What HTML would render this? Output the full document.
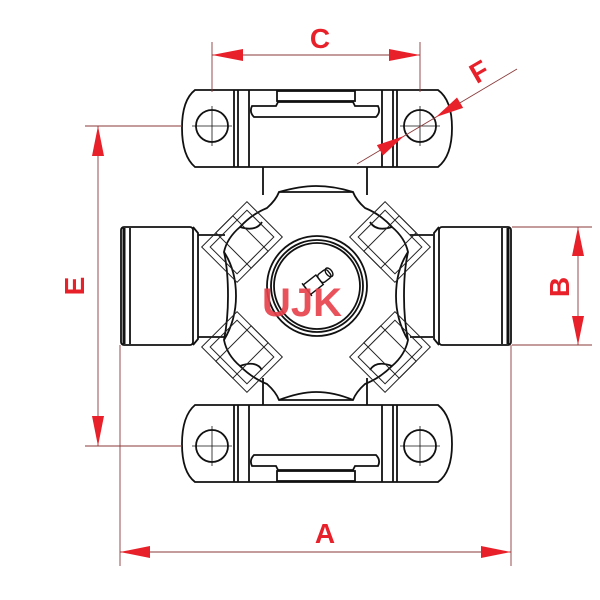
<!DOCTYPE html>
<html><head><meta charset="utf-8"><style>
html,body{margin:0;padding:0;background:#fff}
svg{display:block}
text{font-family:"Liberation Sans",sans-serif;font-weight:bold;fill:#e8202a}
</style></head><body>
<svg width="600" height="600" viewBox="0 0 600 600" xmlns="http://www.w3.org/2000/svg">
<defs>
<g id="yoke" fill="none" stroke="#111" stroke-width="1.8">
  <path d="M195 90 H438 Q452 100 452 128 Q452 156 438 167 H195 Q182 156 182 128 Q182 100 195 90 Z"/>
  <line x1="234" y1="90" x2="234" y2="167"/><line x1="238" y1="90" x2="238" y2="167"/><line x1="249" y1="90" x2="249" y2="167"/>
  <line x1="382" y1="90" x2="382" y2="167"/><line x1="393" y1="90" x2="393" y2="167"/><line x1="397" y1="90" x2="397" y2="167"/>
  <rect x="277" y="91" width="78" height="10"/>
  <path d="M252 106 Q249 112 254 117 H376 Q381 112 378 106 L355 106 L353 102 H278 L276 106 Z"/>
  <circle cx="212" cy="126" r="16"/><circle cx="420" cy="126" r="16"/>
  <g stroke-width="0.8"><line x1="192" y1="126" x2="232" y2="126"/><line x1="212" y1="106" x2="212" y2="146"/>
  <line x1="400" y1="126" x2="440" y2="126"/><line x1="420" y1="106" x2="420" y2="146"/></g>
</g>
<g id="dia" fill="none" stroke="#222" stroke-width="1">
  <rect x="-32" y="-25" width="64" height="50"/><rect x="-26" y="-19" width="52" height="38"/><rect x="-12" y="-25" width="24" height="50"/>
</g>
</defs>
<use href="#yoke"/>
<use href="#yoke" transform="translate(0,572) scale(1,-1)"/>
<g fill="none" stroke="#111" stroke-width="1.8">
<path d="M263 167 V195 M367 167 V195 M263 378 V405 M367 378 V405"/>
<path d="M198 235 H225 M198 337 H225 M433 235 H410 M433 337 H410"/>
<rect x="121" y="227" width="72" height="118" rx="3"/>
<line x1="124" y1="228" x2="124" y2="344" stroke-width="3"/><line x1="130" y1="228" x2="130" y2="344"/>
<path d="M193 227 L198 233 V339 L193 345"/>
<rect x="439" y="227" width="72" height="118" rx="3"/>
<line x1="508" y1="228" x2="508" y2="344" stroke-width="3"/><line x1="502" y1="228" x2="502" y2="344"/>
<path d="M439 227 L434 233 V339 L439 345"/>
<path d="M279 192 H353 Q356 200 365 208 Q380 214 392 227 Q405 238 408 252 Q404 270 404 296 Q404 320 408 340 Q405 355 392 366 Q380 378 365 384 Q356 392 353 400 H279 Q276 392 267 384 Q252 378 240 366 Q227 355 224 340 Q228 320 228 296 Q228 270 224 252 Q227 238 240 227 Q252 214 267 208 Q276 200 279 192 Z"/>
<path d="M279 192 Q300 186 316 186 Q334 186 353 192" />
<path d="M240 227 Q256 232 262 222 M392 227 Q376 232 370 222 M240 366 Q256 360 262 370 M392 366 Q376 360 370 370"/>
<path d="M224 252 Q236 270 236 296 Q236 320 224 340 M408 252 Q396 270 396 296 Q396 320 408 340"/>
<path d="M279 400 Q300 392 316 392 Q334 392 353 400"/>
<circle cx="317" cy="286" r="50"/><circle cx="317" cy="286" r="46"/><circle cx="317" cy="286" r="43"/>
<g transform="translate(318,281) rotate(-38)" stroke-width="1.4">
<rect x="-14" y="-6" width="16" height="12"/><rect x="2" y="-5" width="12" height="10" rx="3"/><ellipse cx="14" cy="0" rx="3" ry="5"/>
<line x1="-14" y1="-8" x2="-14" y2="8"/>
</g>
</g>
<use href="#dia" transform="translate(242,242) rotate(-45)"/>
<use href="#dia" transform="translate(390,242) rotate(45)"/>
<use href="#dia" transform="translate(242,352) rotate(45)"/>
<use href="#dia" transform="translate(390,352) rotate(-45)"/>
<text x="302" y="316" font-size="40" text-anchor="middle" style="fill:#e8404a;opacity:.9">UJK</text>
<g stroke="#8a3a3a" stroke-width="0.9" fill="none">
<line x1="212" y1="42" x2="212" y2="92"/><line x1="420" y1="42" x2="420" y2="92"/>
<line x1="212" y1="55" x2="420" y2="55"/>
<line x1="85" y1="126" x2="182" y2="126"/><line x1="85" y1="446" x2="182" y2="446"/>
<line x1="98" y1="126" x2="98" y2="446"/>
<line x1="512" y1="227" x2="592" y2="227"/><line x1="512" y1="345" x2="592" y2="345"/>
<line x1="578" y1="227" x2="578" y2="345"/>
<line x1="120" y1="345" x2="120" y2="566"/><line x1="511" y1="345" x2="511" y2="566"/>
<line x1="120" y1="552" x2="511" y2="552"/>
<line x1="357" y1="164" x2="517" y2="69"/>
</g>
<g fill="#e8202a">
<polygon points="212,55 243,49 243,61"/><polygon points="420,55 389,49 389,61"/>
<polygon points="98,126 92,156 104,156"/><polygon points="98,446 92,416 104,416"/>
<polygon points="578,227 572,256 584,256"/><polygon points="578,345 572,316 584,316"/>
<polygon points="120,552 150,546 150,558"/><polygon points="511,552 481,546 481,558"/>
<g transform="translate(436,117) rotate(-30.7)"><polygon points="0,0 28,-6 28,6"/></g>
<g transform="translate(404,136) rotate(149.3)"><polygon points="0,0 28,-6 28,6"/></g>
</g>
<text x="320" y="48" font-size="28" text-anchor="middle">C</text>
<text x="325" y="543" font-size="28" text-anchor="middle">A</text>
<text transform="translate(84,286) rotate(-90)" font-size="28" text-anchor="middle">E</text>
<text transform="translate(569,287) rotate(-90)" font-size="28" text-anchor="middle">B</text>
<text transform="translate(484,80) rotate(-30)" font-size="28" text-anchor="middle">F</text>
</svg>
</body></html>
